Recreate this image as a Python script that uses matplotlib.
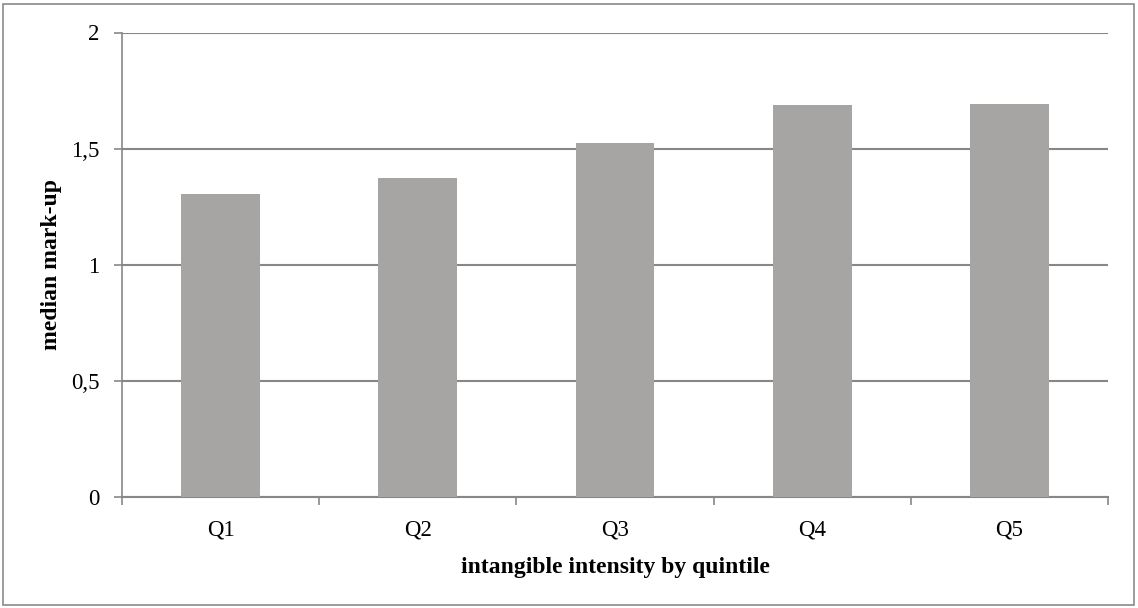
import matplotlib
matplotlib.use("Agg")
import matplotlib.pyplot as plt
from matplotlib.patches import Rectangle

categories = ["Q1", "Q2", "Q3", "Q4", "Q5"]
values = [1.303, 1.372, 1.523, 1.688, 1.690]
yticks = [0, 0.5, 1, 1.5, 2]
ytick_labels = ["0", "0,5", "1", "1,5", "2"]

plt.rcParams['font.family'] = ['Liberation Serif', 'DejaVu Serif']

fig = plt.figure(figsize=(11.38, 6.08), dpi=100)
ax = fig.add_axes([122/1138, 111/608, 986/1138, 464.5/608])

grid_c = "#878787"
x = list(range(len(categories)))
ax.bar(x, values, width=0.4, color="#a6a5a3", zorder=3)
ax.set_xlim(-0.5, len(categories) - 0.5)
ax.set_ylim(0, 2)
ax.set_yticks(yticks)
ax.set_yticklabels(ytick_labels, fontsize=16.5)
ax.set_xticks(x)
ax.set_xticklabels(categories, fontsize=16.5)
ax.set_xticks([i - 0.5 for i in range(len(categories) + 1)], minor=True)
ax.tick_params(axis='x', which='major', length=0, pad=16)
ax.tick_params(axis='x', which='minor', length=6, color=grid_c, width=1.2)
ax.tick_params(axis='y', length=6, color=grid_c, width=1.2, pad=10)
ax.yaxis.grid(True, color=grid_c, linewidth=1.5, zorder=0)
for s in ["top", "right"]:
    ax.spines[s].set_visible(False)
ax.spines["left"].set_color(grid_c)
ax.spines["bottom"].set_color(grid_c)
ax.spines["left"].set_linewidth(1.2)
ax.spines["bottom"].set_linewidth(1.5)

ax.set_xlabel("intangible intensity by quintile", fontsize=17, fontweight="bold", labelpad=12)
ax.set_ylabel("median mark-up", fontsize=17, fontweight="bold", labelpad=7)

fig.patches.append(Rectangle((3/1138, 3/608), 1131/1138, 601/608, transform=fig.transFigure,
                             fill=False, edgecolor="#8a8a8a", linewidth=1.2))

fig.savefig("out.png", dpi=100)
